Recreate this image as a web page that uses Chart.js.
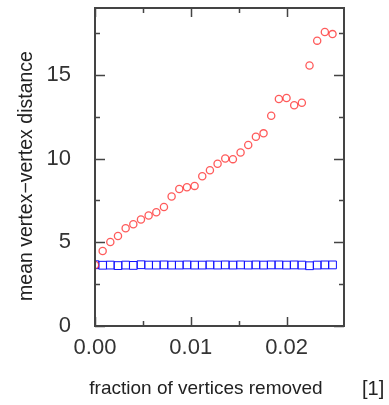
<!DOCTYPE html>
<html>
<head>
<meta charset="utf-8">
<script src="https://cdn.jsdelivr.net/npm/chart.js@4/dist/chart.umd.min.js"></script>
<style>
  html, body { margin: 0; padding: 0; background: #fff; }
  #wrap { width: 389px; height: 405px; }
</style>
</head>
<body>
<div id="wrap"><canvas id="distChart" width="389" height="405"></canvas></div>
<script>
// fraction of vertices removed
const fractions = [0.0000, 0.0008, 0.0016, 0.0024, 0.0032, 0.0040, 0.0048, 0.0056,
  0.0064, 0.0072, 0.0080, 0.0088, 0.0096, 0.0104, 0.0112, 0.0120,
  0.0128, 0.0136, 0.0144, 0.0152, 0.0160, 0.0168, 0.0176, 0.0184,
  0.0192, 0.0200, 0.0208, 0.0216, 0.0224, 0.0232, 0.0240, 0.0248];
// targeted removal (red circles)
const targetedDist = [3.65, 4.48, 5.02, 5.38, 5.84, 6.08, 6.36, 6.60,
  6.80, 7.11, 7.74, 8.19, 8.29, 8.37, 8.95, 9.31,
  9.69, 10.01, 9.97, 10.37, 10.81, 11.31, 11.51, 12.56,
  13.56, 13.62, 13.19, 13.34, 15.56, 17.05, 17.57, 17.44];
// random removal (blue squares)
const randomDist = [3.66, 3.63, 3.64, 3.61, 3.64, 3.62, 3.66, 3.64,
  3.64, 3.65, 3.64, 3.64, 3.65, 3.64, 3.64, 3.65,
  3.64, 3.65, 3.64, 3.65, 3.64, 3.65, 3.64, 3.65,
  3.65, 3.64, 3.65, 3.64, 3.60, 3.64, 3.65, 3.65];
const yMajor = [0, 5, 10, 15];
const xMajor = [0, 0.01, 0.02];

const axisColor = '#444';
const font = 'Liberation Sans, Arial, sans-serif';

const boxTicks = {
  id: 'boxTicks',
  afterDatasetsDraw(chart) {
    const { ctx, chartArea: a, scales: { x, y } } = chart;
    ctx.save();
    ctx.strokeStyle = axisColor;
    ctx.lineWidth = 2;
    ctx.strokeRect(a.left, a.top, a.right - a.left, a.bottom - a.top);
    ctx.lineWidth = 1.5;
    ctx.beginPath();
    y.ticks.forEach(t => {
      if (Math.abs(t.value / 2.5 - Math.round(t.value / 2.5)) > 1e-6) return;
      const isMajor = yMajor.includes(t.value);
      const len = isMajor ? 10 : 5;
      const py = Math.round(y.getPixelForValue(t.value)) + 0.5;
      ctx.moveTo(a.left, py); ctx.lineTo(a.left + len, py);
      ctx.moveTo(a.right, py); ctx.lineTo(a.right - len, py);
    });
    x.ticks.forEach(t => {
      const k = Math.round(t.value * 1000);
      if (Math.abs(t.value * 1000 - k) > 1e-6 || k % 5 !== 0) return;
      const isMajor = k % 10 === 0;
      const len = isMajor ? 9 : 5;
      const px = Math.round(x.getPixelForValue(t.value)) + 0.5;
      ctx.moveTo(px, a.bottom); ctx.lineTo(px, a.bottom - len);
      ctx.moveTo(px, a.top); ctx.lineTo(px, a.top + len);
    });
    ctx.stroke();

    // axis titles and the figure tag
    ctx.fillStyle = '#222';
    ctx.textBaseline = 'middle';
    ctx.textAlign = 'center';
    ctx.font = '19px ' + font;
    ctx.fillText('fraction of vertices removed', 206, 389);
    ctx.font = '20px ' + font;
    ctx.textAlign = 'left';
    ctx.fillText('[1]', 362, 389);
    ctx.translate(27, 176);
    ctx.rotate(-Math.PI / 2);
    ctx.textAlign = 'center';
    ctx.font = '19.5px ' + font;
    ctx.fillText('mean vertex\u2212vertex distance', 0, 0);
    ctx.restore();
  }
};

new Chart(document.getElementById('distChart'), {
  type: 'scatter',
  data: {
    datasets: [
      {
        label: 'targeted',
        data: fractions.map((f, i) => ({ x: f, y: targetedDist[i] })),
        pointStyle: 'circle',
        pointRadius: 3.6,
        pointBorderWidth: 1.3,
        borderColor: 'rgba(255,50,50,0.8)',
        backgroundColor: 'rgba(0,0,0,0)',
        order: 1
      },
      {
        label: 'random',
        data: fractions.map((f, i) => ({ x: f, y: randomDist[i] })),
        pointStyle: 'rect',
        pointRadius: 5.5,
        pointBorderWidth: 1,
        borderColor: '#1010ff',
        backgroundColor: 'rgba(0,0,0,0)',
        order: 2
      }
    ]
  },
  options: {
    responsive: false,
    animation: false,
    layout: { padding: { top: 8, right: 45, left: 0, bottom: 0 } },
    plugins: { legend: { display: false }, tooltip: { enabled: false } },
    scales: {
      x: {
        type: 'linear',
        min: 0, max: 0.026,
        grid: { display: false },
        border: { display: false },
        afterFit: s => { s.height = 79; s.paddingLeft = 0; s.paddingRight = 0; },
        ticks: {
          stepSize: 0.005,
          padding: 1,
          maxRotation: 0,
          autoSkip: false,
          color: '#333',
          font: { family: font, size: 22 },
          callback: v => {
            const k = Math.round(v * 1000);
            return (Math.abs(v * 1000 - k) < 1e-6 && xMajor.includes(k / 1000)) ? (k / 1000).toFixed(2) : '';
          }
        }
      },
      y: {
        min: 0, max: 19,
        grid: { display: false },
        border: { display: false },
        afterFit: s => { s.width = 95; s.paddingTop = 0; s.paddingBottom = 0; },
        ticks: {
          stepSize: 2.5,
          padding: 16,
          autoSkip: false,
          color: '#333',
          font: { family: font, size: 22 },
          callback: v => yMajor.includes(v) ? String(v) : ''
        }
      }
    }
  },
  plugins: [boxTicks]
});
</script>
</body>
</html>
